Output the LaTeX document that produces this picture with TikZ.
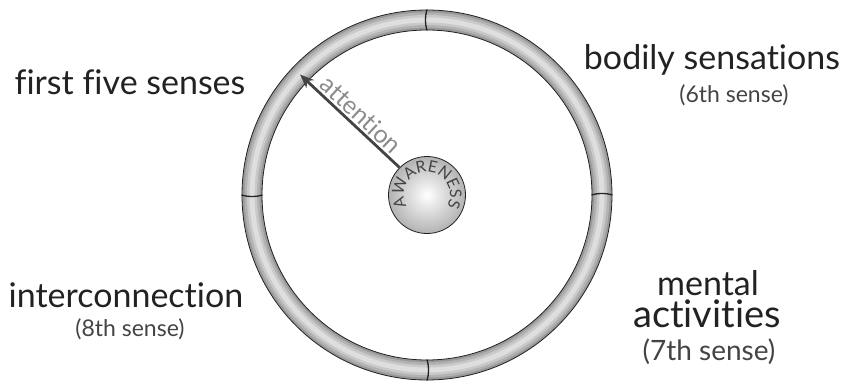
\documentclass[tikz,border=0pt]{standalone}
\usepackage{fontspec}
\setmainfont{Lato}[Ligatures={NoCommon}]
\usepackage{tikz}
\usetikzlibrary{arrows.meta,positioning,decorations.text}
\definecolor{ink}{HTML}{222222}
\definecolor{ink2}{HTML}{444444}
\definecolor{soft}{HTML}{8C8C8C}

\begin{document}
\begin{tikzpicture}[x=1pt,y=1pt,
  sense/.style={font=\fontsize{34}{36}\selectfont,text=ink,inner sep=0pt},
  which/.style={font=\fontsize{23}{25}\selectfont,text=ink2,inner sep=0pt},
  divider/.style={line width=1.3pt,ink},
  arr/.style={-{Stealth[length=14pt,width=11pt]},line width=2.8pt,ink2}
]
  \useasboundingbox (-427,-188) rectangle (421,195);
  % the ring of the senses
  \foreach \w/\c in {20/40,15/30,10/21,5/13}
    \draw[line width=\w pt,black!\c] (0,0) circle (175);
  \draw[line width=0.8pt,ink] (0,0) circle (185) (0,0) circle (165);
  \foreach \a in {90,0,180,270}
    \draw[divider] (\a:164.5) to[bend left=15] (\a:185.5);
  \node[circle,minimum size=77pt,draw=ink,line width=0.8pt,
        inner color=white,outer color=black!30] (awareness) at (0,0) {};
  \path[decorate,decoration={text along path,text align=center,text color=ink2,
        text={|\fontsize{16}{16}\selectfont|AWARENESS}}]
    (208:23) arc[start angle=208,end angle=-28,radius=23];
  \coordinate (focus) at (136.5:175);
  \draw[arr] (awareness.135) -- node[sloped,above,pos=0.47,inner sep=2pt,
        font=\fontsize{25}{26}\selectfont,text=soft] (attn) {attention} (focus);

  \node[sense] (five)   at (-297,113) {first five senses};
  \node[sense] (bodily) at (285,135)  {bodily sensations};
  \node[which] (sixth)  at (307,100)  {(6th sense)};
  \node[sense] (inter)  at (-301,-100) {interconnection};
  \node[which] (eighth) at (-297,-134) {(8th sense)};
  \node[sense] (mental) at (281,-88)  {mental};
  \node[sense,font=\fontsize{38}{38}\selectfont] (activ) at (280,-119) {activities};
  \node[which,font=\fontsize{28}{30}\selectfont] (seventh) at (282,-157) {(7th sense)};
\end{tikzpicture}
\end{document}
